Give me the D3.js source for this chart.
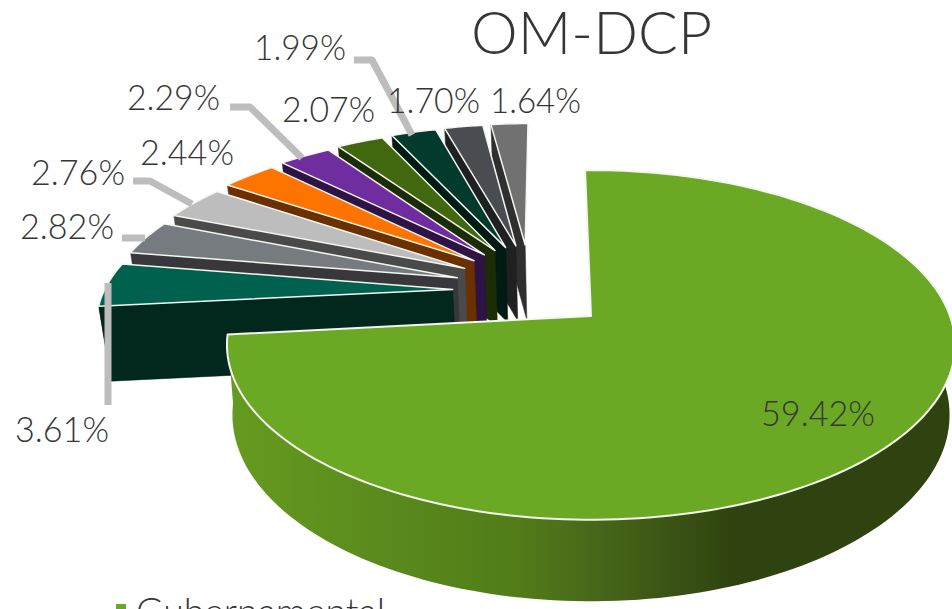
<!DOCTYPE html>
<html><head><meta charset="utf-8">
<style>html,body{margin:0;padding:0;background:#fff;overflow:hidden}svg{display:block}text{font-family:Lato,"Open Sans",sans-serif;font-weight:300;fill:#363636}</style>
<script src="https://cdn.jsdelivr.net/npm/d3@7"></script></head><body>
<script>
// data
const title = "OM-DCP";
const sliceNames = ["Gubernamental","s2","s3","s4","s5","s6","s7","s8","s9","s10"];
const sliceValues = [59.42,3.61,2.82,2.76,2.44,2.29,2.07,1.99,1.70,1.64];
const topColors = ["#6BA823","#00614F","#767B80","#BDBDBD","#FF7300","#6F2DA0","#41670F","#023A2D","#494C50","#717171"];
const wallColors = ["#5a8f1e","#02271D","#38383C","#4A4A4A","#6B3000","#2E1345","#1C2D06","#001A14","#1F2022","#2F2F2F"];
// layout
const W=952,H=609, cx=591, cy=316, B=359, A=170, K=0.1657;
const wallGreen=68, wallOther=75, fGreen=0.985, fOther=0.975;
const explodeX=0.2165, explodeY=0.30, rGreen=1, rOtherX=0.995, rOtherY=0.945, startDeg=-1.1;
const centre=[-0.179,-0.15];
const labelSpots=[[761,426,114],[15,442,94],[20,239,94],[31,185,94],[140,165,94],[127,110,93],[282,122,93],[254,60,92],[387,113,93],[490,113,91]];
const leaders=[null,[[108,283],[108,405]],[[122,238],[145,238]],[[133,181],[150,181],[192,204]],null,[[230,107],[250,107],[302,158]],null,[[354,60],[372,60],[412,135]],null,null];

const svg=d3.select("body").append("svg").attr("width",W).attr("height",H);
const pie=d3.pie().sort(null).startAngle(startDeg*Math.PI/180).endAngle((startDeg+360)*Math.PI/180);
const arcs=pie(sliceValues);
const line=d3.line();

function project(px,py,low,i){
  const w=1-K*py; let X=B*px/w, Y=A*py/w;
  if(low){
    X*=i===0?fGreen:fOther;
    Y+=i===0?wallGreen/w:wallOther;
  }
  return [cx+X,cy+Y];
}
function geom(d,i){
  const mid=(d.startAngle+d.endAngle)/2;
  const rx=i===0?rGreen:rOtherX, ry=i===0?rGreen:rOtherY;
  const ox=i===0?0:centre[0]+explodeX*Math.sin(mid), oy=i===0?0:centre[1]-explodeY*Math.cos(mid);
  const n=Math.max(4,Math.ceil((d.endAngle-d.startAngle)*40));
  const angles=d3.range(n+1).map(j=>d.startAngle+(d.endAngle-d.startAngle)*j/n);
  const at=a=>[ox+rx*Math.sin(a),oy-ry*Math.cos(a)];
  return {apex:[ox,oy],rim:angles.map(at),front:angles.filter(a=>Math.cos(a)<0.15).map(at)};
}

const defs=svg.append("defs");
const grad=defs.append("linearGradient").attr("id","gw").attr("gradientUnits","userSpaceOnUse").attr("x1",227).attr("x2",952).attr("y1",0).attr("y2",0);
[[0,"#659B20"],[0.4,"#517C19"],[0.52,"#47651A"],[0.7,"#2E430F"],[1,"#2E430F"]].forEach(s=>grad.append("stop").attr("offset",s[0]).attr("stop-color",s[1]));

const g=svg.append("g");
function drawSlice(i){
  const d=arcs[i], ge=geom(d,i);
  const wall=i===0?"url(#gw)":wallColors[i];
  const P=(p,low)=>project(p[0],p[1],low,i);
  if(i!==0){
    const e=ge.rim[0];
    g.append("path").attr("d",line([P(ge.apex),P(e),P(e,true),P(ge.apex,true)])+"Z").attr("fill",wall).attr("stroke",wall).attr("stroke-width",.5);
  }
  if(ge.front.length>1){
    const up=ge.front.map(p=>P(p)), lo=ge.front.map(p=>P(p,true)).reverse();
    g.append("path").attr("d",line(up.concat(lo))+"Z").attr("fill",wall);
  }
  g.append("path").attr("d",line([P(ge.apex)].concat(ge.rim.map(p=>P(p))))+"Z").attr("fill",topColors[i]).attr("stroke","#f4f6f0").attr("stroke-width",i===0?2:1.5).attr("stroke-linejoin","round");
}
d3.range(arcs.length-1,0,-1).forEach(drawSlice);
drawSlice(0);

leaders.forEach(l=>{ if(l) svg.append("path").attr("d",line(l)).attr("fill","none").attr("stroke","#BDBDBD").attr("stroke-width",7).attr("stroke-linejoin","round"); });

const fmt=v=>v.toFixed(2)+"%";
svg.selectAll("text.lab").data(sliceValues).enter().append("text").attr("class","lab")
  .attr("x",(d,i)=>labelSpots[i][0]).attr("y",(d,i)=>labelSpots[i][1])
  .attr("textLength",(d,i)=>labelSpots[i][2]).attr("lengthAdjust","spacingAndGlyphs")
  .attr("font-size",36).text(fmt);
svg.append("text").attr("x",471).attr("y",54).attr("font-size",60).attr("textLength",241).attr("lengthAdjust","spacingAndGlyphs").text(title);
svg.append("rect").attr("x",116).attr("y",604).attr("width",10).attr("height",10).attr("fill",topColors[0]);
svg.append("text").attr("x",136).attr("y",625).attr("font-size",38).attr("textLength",249).attr("lengthAdjust","spacingAndGlyphs").text(sliceNames[0]);
</script></body></html>
